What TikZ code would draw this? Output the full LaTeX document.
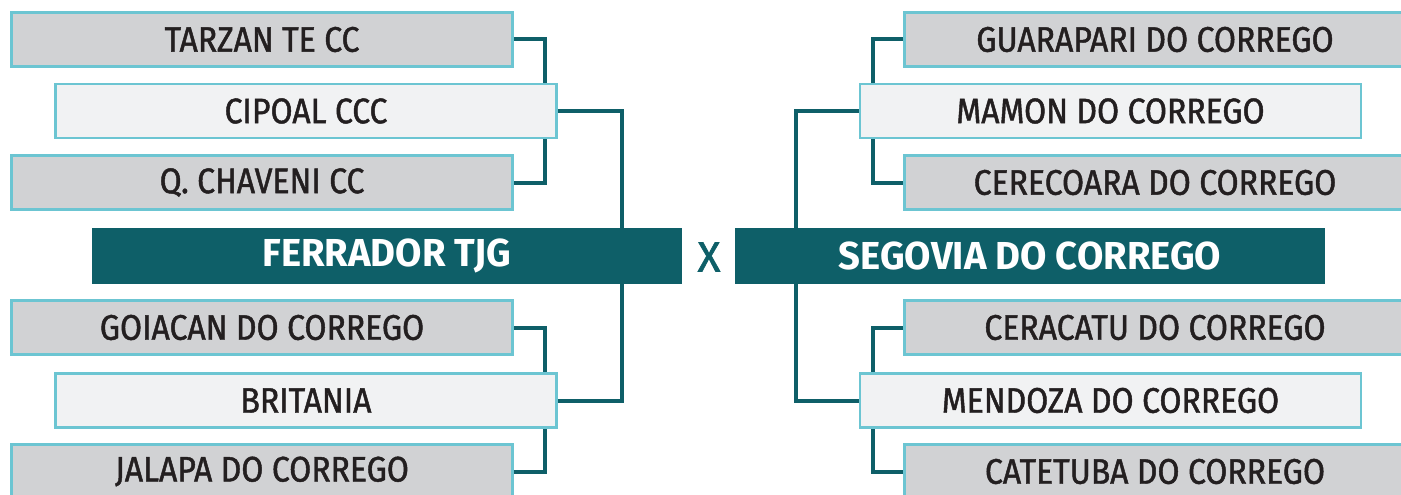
\documentclass[tikz,border=0pt]{standalone}
\usepackage{fontspec}
\setmainfont{Fira Sans}[FakeStretch=0.9, FakeBold=1.3]
\newfontfamily\headfont{Fira Sans}[FakeStretch=0.98]
\newfontfamily\xfont{Fira Sans}[FakeBold=1.5]
\definecolor{teal}{HTML}{0E5F68}
\definecolor{boxgray}{HTML}{D1D2D4}
\definecolor{boxlight}{HTML}{F1F2F3}
\definecolor{cyanb}{HTML}{6CC5D2}
\definecolor{txt}{HTML}{231F20}
\tikzset{
  team/.style={rectangle, draw=cyanb, line width=2.6pt, fill=boxgray, minimum width=501pt, minimum height=54pt, inner sep=0pt, text=txt, font=\fontsize{35.5}{35.5}\selectfont},
  semi/.style={team, fill=boxlight},
  final/.style={rectangle, fill=teal, minimum width=590pt, minimum height=56pt, inner sep=0pt, text=white, font=\headfont\bfseries\fontsize{39}{39}\selectfont},
  conn/.style={draw=teal, line width=4pt}
}
\begin{document}
\begin{tikzpicture}[x=1pt,y=-1pt]
\useasboundingbox (0,0) rectangle (1401,495);
\clip (0,0) rectangle (1401,495);
\fill[white] (0,0) rectangle (1401,495);
% columns
\coordinate (jl) at (545,0);
\coordinate (kl) at (622,0);
\coordinate (jr) at (873,0);
\coordinate (kr) at (796,0);
% left
\node[team] (tarzan) at (262,39.5) {TARZAN TE CC};
\node[semi] (cipoal) at (306,111) {CIPOAL CCC};
\node[team] (chaveni) at (262,182.5) {Q. CHAVENI CC};
\node[final] (ferrador) at (387,256) {FERRADOR TJG};
\node[team] (goiacan) at (262,327.5) {GOIACAN DO CORREGO};
\node[semi] (britania) at (306,400.5) {BRITANIA};
\node[team] (jalapa) at (262,471.5) {JALAPA DO CORREGO};
% right
\node[team] (guarapari) at (1155,39.5) {GUARAPARI DO CORREGO};
\node[semi] (mamon) at (1110.5,111) {MAMON DO CORREGO};
\node[team] (cerecoara) at (1155,182.5) {CERECOARA DO CORREGO};
\node[final] (segovia) at (1030,256) {SEGOVIA DO CORREGO};
\node[team] (ceracatu) at (1155,327.5) {CERACATU DO CORREGO};
\node[semi] (mendoza) at (1110.5,400.5) {MENDOZA DO CORREGO};
\node[team] (catetuba) at (1155,471.5) {CATETUBA DO CORREGO};
\node[text=teal, font=\xfont\fontsize{42}{42}\selectfont] (vs) at (709,257) {X};
% connectors
\draw[conn] (tarzan.east) -| (jl |- cipoal.north);
\draw[conn] (chaveni.east) -| (jl |- cipoal.south);
\draw[conn] (cipoal.east) -| (kl |- ferrador.north);
\draw[conn] (goiacan.east) -| (jl |- britania.north);
\draw[conn] (jalapa.east) -| (jl |- britania.south);
\draw[conn] (britania.east) -| (kl |- ferrador.south);
\draw[conn] (guarapari.west) -| (jr |- mamon.north);
\draw[conn] (cerecoara.west) -| (jr |- mamon.south);
\draw[conn] (mamon.west) -| (kr |- segovia.north);
\draw[conn] (ceracatu.west) -| (jr |- mendoza.north);
\draw[conn] (catetuba.west) -| (jr |- mendoza.south);
\draw[conn] (mendoza.west) -| (kr |- segovia.south);
\end{tikzpicture}
\end{document}
